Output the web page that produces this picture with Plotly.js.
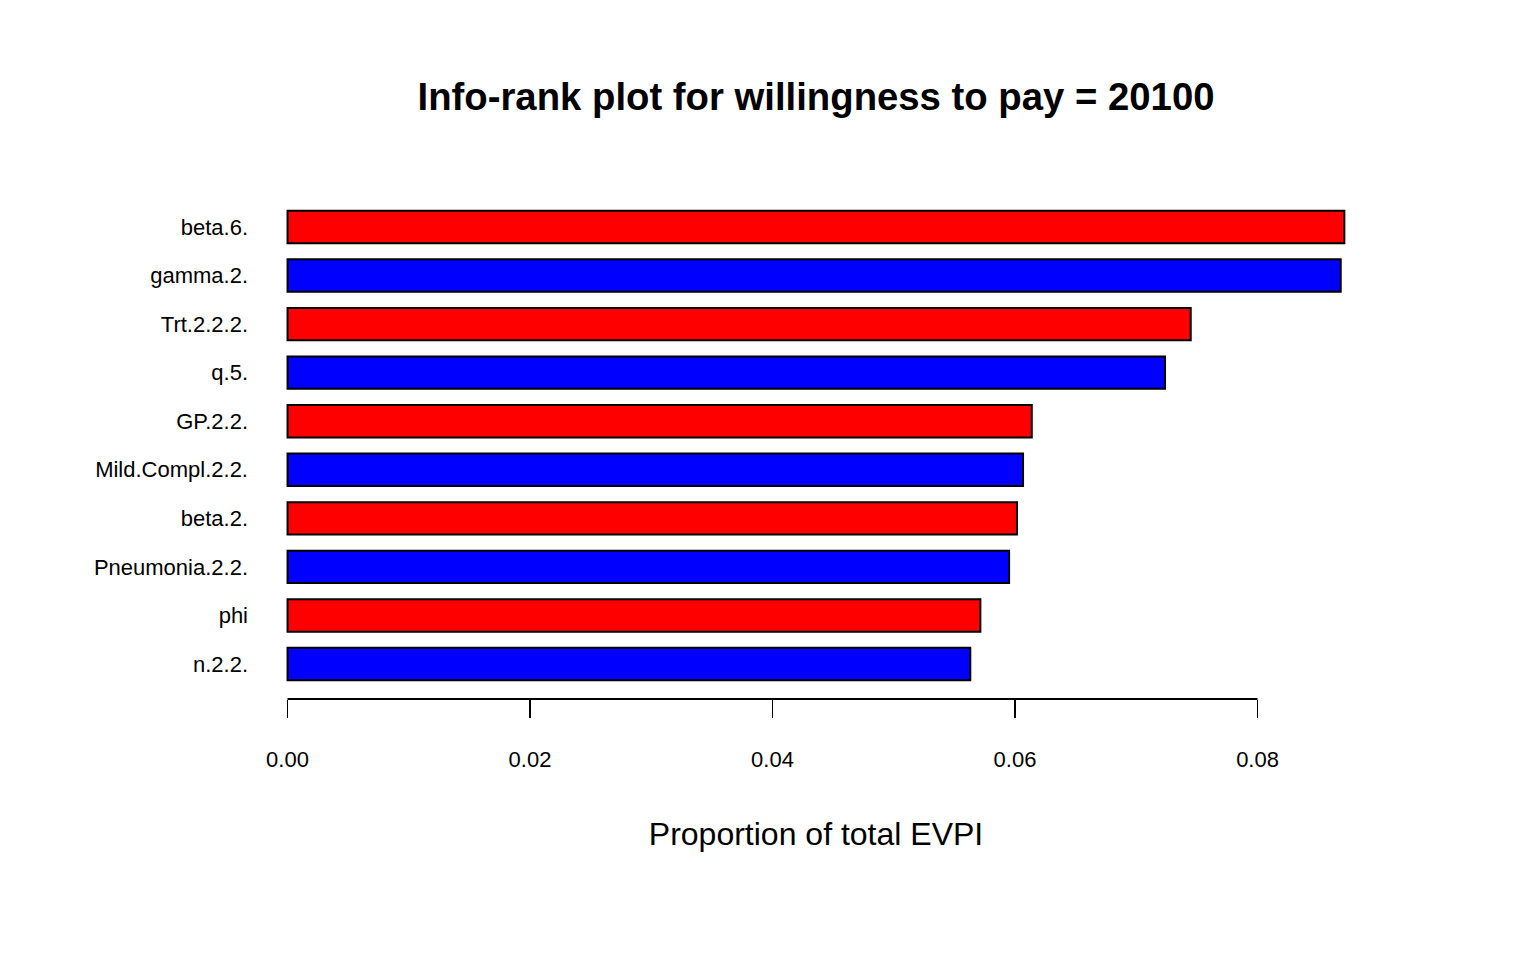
<!DOCTYPE html>
<html>
<head>
<meta charset="utf-8">
<script src="https://cdn.plot.ly/plotly-3.0.1.min.js"></script>
<style>html,body{margin:0;padding:0;background:#fff;}#chart{width:1536px;height:960px;}</style>
</head>
<body>
<div id="chart"></div>
<script>
// Parameters, listed top to bottom as in the chart
var parameters = ["beta.6.", "gamma.2.", "Trt.2.2.2.", "q.5.", "GP.2.2.", "Mild.Compl.2.2.", "beta.2.", "Pneumonia.2.2.", "phi", "n.2.2."];
// Proportion of total EVPI
var evpiProportion = [0.08716, 0.08686, 0.07449, 0.07237, 0.06138, 0.06066, 0.06016, 0.05951, 0.05714, 0.05631];
var xTickValues = [0, 0.02, 0.04, 0.06, 0.08];
var xTickLabels = ["0.00", "0.02", "0.04", "0.06", "0.08"];

var barColors = parameters.map(function (_, i) { return i % 2 === 0 ? "#FF0000" : "#0000FF"; });

var trace = {
  type: "bar",
  orientation: "h",
  x: evpiProportion,
  y: parameters,
  marker: { color: barColors, line: { color: "#000000", width: 2 } },
  hoverinfo: "x+y"
};

var layout = {
  width: 1536,
  height: 960,
  paper_bgcolor: "#ffffff",
  plot_bgcolor: "#ffffff",
  font: { family: "Liberation Sans, Arial, sans-serif", color: "#000000" },
  margin: { l: 252, r: 156, t: 191.5, b: 261 },
  showlegend: false,
  bargap: 0.333,
  title: {
    text: "<b>Info-rank plot for willingness to pay = 20100</b>",
    font: { size: 38.3, family: "Liberation Sans, Arial, sans-serif", color: "#000000" },
    xref: "paper", x: 0.5, xanchor: "center",
    yref: "container", y: 1 - 97 / 960, yanchor: "middle"
  },
  xaxis: {
    range: [-0.00293, 0.0901],
    tickmode: "array",
    tickvals: xTickValues,
    ticktext: xTickLabels,
    ticks: "outside",
    ticklen: 18,
    tickwidth: 1.8,
    tickcolor: "#000000",
    ticklabelstandoff: 23,
    tickfont: { size: 22 },
    showline: false,
    showgrid: false,
    zeroline: false,
    title: { text: "Proportion of total EVPI", font: { size: 32 }, standoff: 51 }
  },
  yaxis: {
    type: "category",
    range: [9.72, -0.72],
    ticks: "",
    ticklabelstandoff: 3,
    tickfont: { size: 22 },
    showline: false,
    showgrid: false,
    zeroline: false
  },
  shapes: [{
    type: "line",
    xref: "x", yref: "paper",
    x0: xTickValues[0], x1: xTickValues[xTickValues.length - 1],
    y0: 0, y1: 0,
    line: { color: "#000000", width: 1.8 }
  }]
};

Plotly.newPlot("chart", [trace], layout, { displayModeBar: false, staticPlot: true });
</script>
</body>
</html>
